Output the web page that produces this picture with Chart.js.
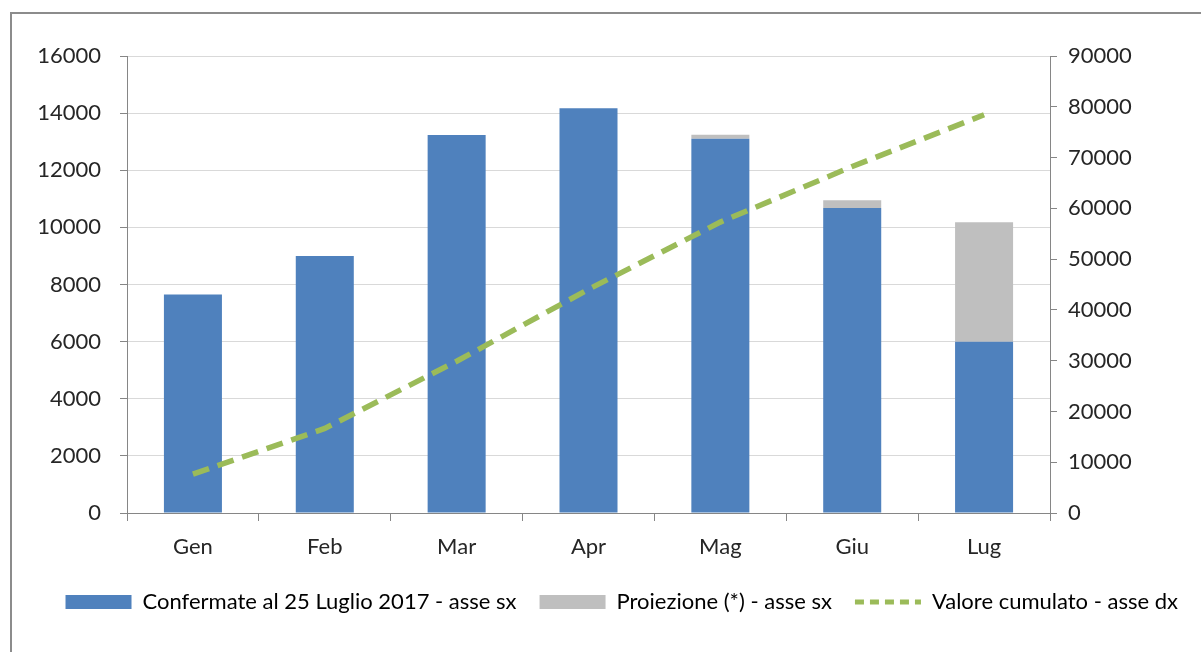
<!DOCTYPE html>
<html>
<head>
<meta charset="utf-8">
<script src="https://cdn.jsdelivr.net/npm/chart.js@4.4.1/dist/chart.umd.min.js"></script>
<style>
    html, body { margin: 0; padding: 0; background: #fff; overflow: hidden; }
    #wrap { position: relative; width: 1201px; height: 652px; }
    #frame { position: absolute; left: 10px; top: 12px; width: 1300px; height: 800px; border: 2px solid #8c8c8c; box-sizing: border-box; }
    canvas { position: absolute; left: 0; top: 0; }
</style>
</head>
<body>
<div id="wrap">
    <div id="frame"></div>
    <canvas id="chart" width="1201" height="652"></canvas>
</div>
<script>
// Dati
const mesi = ['Gen', 'Feb', 'Mar', 'Apr', 'Mag', 'Giu', 'Lug'];
const confermate = [7650, 9000, 13230, 14170, 13100, 10680, 6000];
const proiezione = [0, 0, 0, 0, 140, 270, 4180];
const cumulato = [7650, 16650, 29880, 44050, 57290, 68240, 78420];

const etichette = [
    'Confermate al 25 Luglio 2017 - asse sx',
    'Proiezione (*) - asse sx',
    'Valore cumulato - asse dx'
];

const FONT = "Lato, 'Open Sans', sans-serif";
const AXIS_GREY = '#868686';
const TEXT = '#262626';

// numeri senza separatore delle migliaia
const plain = function(value) { return String(value); };

const ctx = document.getElementById('chart').getContext('2d');

new Chart(ctx, {
    type: 'bar',
    data: {
        labels: mesi,
        datasets: [
            {
                type: 'line',
                label: etichette[2],
                data: cumulato,
                yAxisID: 'y1',
                borderColor: '#9BBB59',
                backgroundColor: '#9BBB59',
                borderWidth: 5.5,
                borderDash: [17, 9],
                borderCapStyle: 'butt',
                pointRadius: 0,
                tension: 0,
                order: 0
            },
            {
                label: etichette[0],
                data: confermate,
                backgroundColor: '#4F81BD',
                yAxisID: 'y',
                stack: 's',
                barPercentage: 0.44,
                categoryPercentage: 1,
                order: 1
            },
            {
                label: etichette[1],
                data: proiezione,
                backgroundColor: '#BFBFBF',
                yAxisID: 'y',
                stack: 's',
                barPercentage: 0.44,
                categoryPercentage: 1,
                order: 1
            }
        ]
    },
    options: {
        responsive: false,
        animation: false,
        layout: { padding: { top: 56, left: 0, right: 0, bottom: 29 } },
        plugins: {
            tooltip: { enabled: false },
            legend: {
                position: 'bottom',
                align: 'end',
                labels: {
                    font: { family: FONT, size: 22 },
                    color: TEXT,
                    usePointStyle: true,
                    pointStyleWidth: 66,
                    boxHeight: 14,
                    padding: 23,
                    generateLabels: function(chart) {
                        const ds = chart.data.datasets;
                        return [
                            { text: ds[1].label, fillStyle: '#4F81BD', strokeStyle: '#4F81BD', lineWidth: 0, pointStyle: 'rect', datasetIndex: 1 },
                            { text: ds[2].label, fillStyle: '#BFBFBF', strokeStyle: '#BFBFBF', lineWidth: 0, pointStyle: 'rect', datasetIndex: 2 },
                            { text: ds[0].label, fillStyle: 'transparent', strokeStyle: '#9BBB59', lineWidth: 5, lineDash: [9, 6], pointStyle: 'line', datasetIndex: 0 }
                        ];
                    }
                }
            }
        },
        scales: {
            x: {
                stacked: true,
                grid: {
                    offset: true,
                    drawOnChartArea: false,
                    drawTicks: true,
                    tickLength: 8,
                    tickColor: AXIS_GREY
                },
                border: { color: AXIS_GREY, width: 1 },
                ticks: { font: { family: FONT, size: 22 }, color: TEXT, padding: 13 },
                afterFit: function(scale) { scale.height = 55; }
            },
            y: {
                position: 'left',
                stacked: true,
                min: 0,
                max: 16000,
                ticks: { stepSize: 2000, font: { family: FONT, size: 22 }, color: TEXT, padding: 19, callback: plain },
                grid: { color: '#D9D9D9', tickColor: AXIS_GREY, tickLength: 7 },
                border: { color: AXIS_GREY, width: 1 },
                afterFit: function(scale) { scale.width = 127; }
            },
            y1: {
                position: 'right',
                min: 0,
                max: 90000,
                ticks: { stepSize: 10000, font: { family: FONT, size: 22 }, color: TEXT, padding: 11, callback: plain },
                grid: { drawOnChartArea: false, tickColor: AXIS_GREY, tickLength: 7 },
                border: { color: AXIS_GREY, width: 1 },
                afterFit: function(scale) { scale.width = 151; }
            }
        }
    }
});
</script>
</body>
</html>
